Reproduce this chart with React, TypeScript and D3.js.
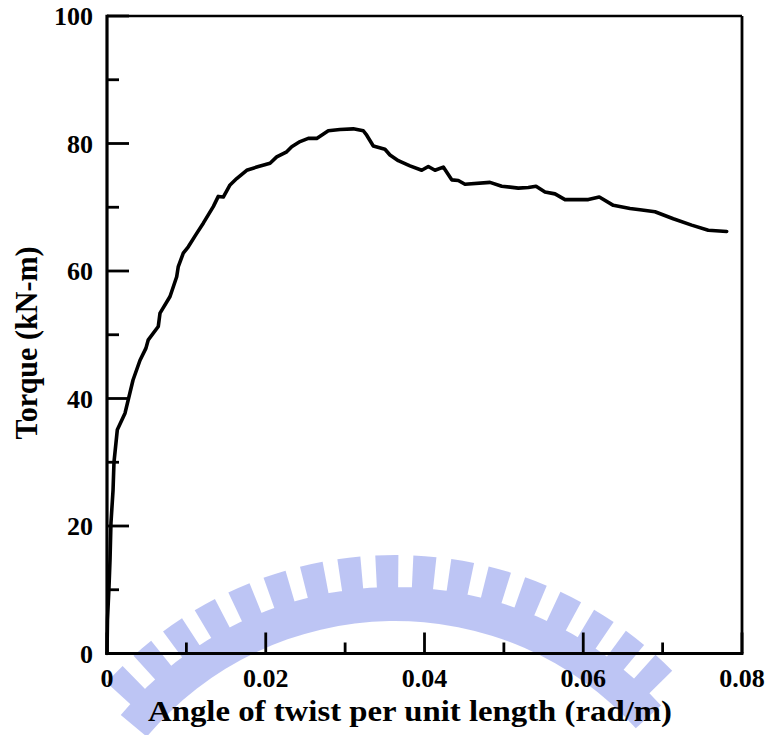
import React from "react";
import * as d3 from "d3";

// ---- data ----
const twist: number[] = [
  0, 0.00006, 0.00025, 0.00038, 0.0005, 0.00076, 0.00088, 0.0013, 0.00227, 0.00328,
  0.00416, 0.00491, 0.0052, 0.00646, 0.00668, 0.00794, 0.00878, 0.00898, 0.00961, 0.01024,
  0.0113, 0.01213, 0.01339, 0.01402, 0.01465, 0.0155, 0.01634, 0.0176, 0.01886, 0.02054,
  0.02138, 0.02264, 0.02327, 0.02432, 0.02536, 0.02642, 0.02788, 0.02935, 0.03103, 0.03229,
  0.03272, 0.03355, 0.03502, 0.03565, 0.0367, 0.03817, 0.03965, 0.04048, 0.04132, 0.04237,
  0.04343, 0.04426, 0.0451, 0.04825, 0.04973, 0.05182, 0.05308, 0.05405, 0.05518, 0.05644,
  0.0577, 0.06064, 0.06202, 0.06379, 0.06589, 0.06715, 0.06904, 0.07134, 0.07366, 0.07575,
  0.07807,
];
const torque: number[] = [
  0, 5.3, 10.4, 14.7, 20.5, 25.6, 30, 35.1, 37.7, 42.9,
  46, 47.9, 49.2, 51.3, 53.4, 56, 59.1, 60.7, 62.8, 63.8,
  65.9, 67.5, 70.1, 71.7, 71.6, 73.5, 74.5, 75.8, 76.3, 76.9,
  77.9, 78.7, 79.5, 80.3, 80.8, 80.8, 82.0, 82.2, 82.3, 82.0,
  81.3, 79.6, 79.1, 78.2, 77.3, 76.5, 75.8, 76.4, 75.8, 76.3,
  74.3, 74.2, 73.6, 73.9, 73.3, 73.0, 73.1, 73.3, 72.4, 72.1,
  71.2, 71.2, 71.6, 70.3, 69.8, 69.6, 69.3, 68.2, 67.2, 66.4,
  66.2,
];
const xTickValues: number[] = [0, 0.01, 0.02, 0.03, 0.04, 0.05, 0.06, 0.07, 0.08];
const xTickLabels: string[] = ["0", "", "0.02", "", "0.04", "", "0.06", "", "0.08"];
const yTickValues: number[] = [0, 10, 20, 30, 40, 50, 60, 70, 80, 90, 100];
const yTickLabels: string[] = ["0", "", "20", "", "40", "", "60", "", "80", "", "100"];
const xTitle = "Angle of twist per unit length (rad/m)";
const yTitle = "Torque (kN-m)";

const W = 772;
const H = 735;
const M = { left: 107, right: 742, top: 16, bottom: 653.5 };
const FONT = "'Liberation Serif', 'Times New Roman', serif";

function watermarkPath(): string {
  const arc = d3.arc();
  const parts: string[] = [];
  const toRad = (deg: number) => (deg * Math.PI) / 180;
  parts.push(
    arc({ innerRadius: 324, outerRadius: 358, startAngle: toRad(-50), endAngle: toRad(48) }) as string
  );
  for (let a = -46; a <= 45; a += 5.6) {
    parts.push(
      arc({ innerRadius: 354, outerRadius: 390, startAngle: toRad(a - 1.7), endAngle: toRad(a + 1.7) }) as string
    );
  }
  return parts.join(" ");
}

export default function App() {
  const x = d3.scaleLinear().domain([0, 0.08]).range([M.left, M.right]);
  const y = d3.scaleLinear().domain([0, 100]).range([M.bottom, M.top]);
  const pts: [number, number][] = twist.map((t, i) => [t, torque[i]]);
  const line = d3
    .line<[number, number]>()
    .x((d) => x(d[0]))
    .y((d) => y(d[1]));

  return (
    <svg
      width={W}
      height={H}
      viewBox={`0 0 ${W} ${H}`}
      style={{ position: "absolute", left: 0, top: 0, display: "block", background: "#fff" }}
    >
      <rect x={0} y={0} width={W} height={H} fill="#fff" />
      {/* watermark */}
      <g transform="translate(395,945)" opacity={0.72}>
        <path d={watermarkPath()} fill="#a3aff0" />
      </g>
      {/* frame */}
      <line x1={M.left} x2={M.right} y1={M.top} y2={M.top} stroke="#000" strokeWidth={2.6} />
      <line x1={M.right} x2={M.right} y1={M.top} y2={M.bottom} stroke="#000" strokeWidth={2.8} />
      <line x1={M.left} x2={M.left} y1={M.top - 1.3} y2={M.bottom + 1.5} stroke="#000" strokeWidth={3.2} />
      <line x1={M.left - 1.5} x2={M.right + 1.4} y1={M.bottom} y2={M.bottom} stroke="#000" strokeWidth={3.2} />
      {/* x ticks */}
      {xTickValues.map((v, i) => (
        <g key={"xt" + i}>
          <line
            x1={x(v)}
            x2={x(v)}
            y1={M.bottom}
            y2={M.bottom - (xTickLabels[i] ? 21 : 11)}
            stroke="#000"
            strokeWidth={2.8}
          />
          {xTickLabels[i] && (
            <text
              x={x(v)}
              y={687}
              textAnchor="middle"
              fontFamily={FONT}
              fontWeight="bold"
              fontSize={26}
              fill="#000"
            >
              {xTickLabels[i]}
            </text>
          )}
        </g>
      ))}
      {/* y ticks */}
      {yTickValues.map((v, i) => (
        <g key={"yt" + i}>
          <line
            x1={M.left}
            x2={M.left + (yTickLabels[i] ? 22 : 12)}
            y1={y(v)}
            y2={y(v)}
            stroke="#000"
            strokeWidth={2.8}
          />
          {yTickLabels[i] && (
            <text
              x={93}
              y={y(v)}
              dy="0.35em"
              textAnchor="end"
              fontFamily={FONT}
              fontWeight="bold"
              fontSize={26}
              fill="#000"
            >
              {yTickLabels[i]}
            </text>
          )}
        </g>
      ))}
      {/* data */}
      <path
        d={line(pts) as string}
        fill="none"
        stroke="#000"
        strokeWidth={3.6}
        strokeLinejoin="round"
        strokeLinecap="round"
      />
      {/* titles */}
      <text
        x={410}
        y={721}
        textAnchor="middle"
        fontFamily={FONT}
        fontWeight="bold"
        fontSize={30}
        textLength={524}
        lengthAdjust="spacingAndGlyphs"
        fill="#000"
      >
        {xTitle}
      </text>
      <text
        transform={`translate(37,343) rotate(-90)`}
        textAnchor="middle"
        fontFamily={FONT}
        fontWeight="bold"
        fontSize={31}
        textLength={193}
        lengthAdjust="spacingAndGlyphs"
        fill="#000"
      >
        {yTitle}
      </text>
    </svg>
  );
}
